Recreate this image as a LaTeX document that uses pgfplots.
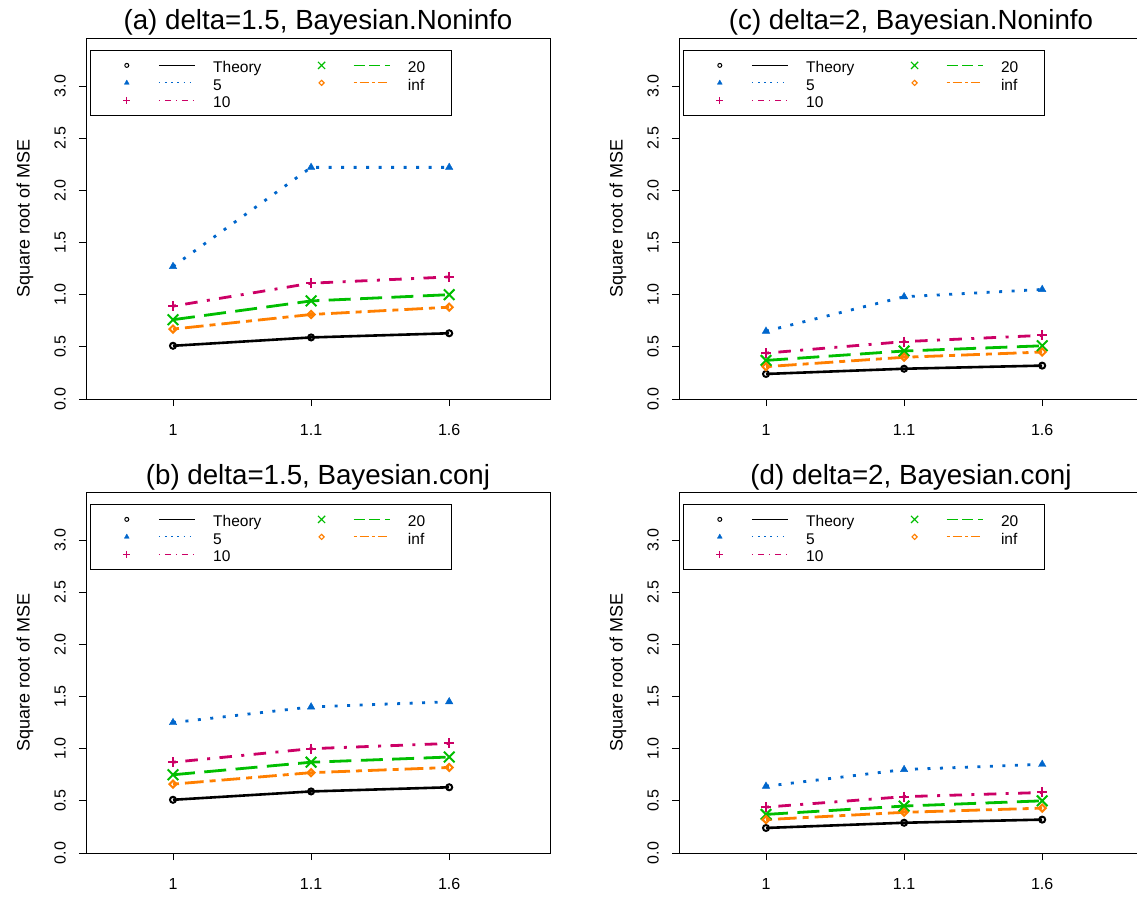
\documentclass[border=0pt]{standalone}
\usepackage{pgfplots}
\pgfplotsset{compat=1.18}
\usepackage{fontspec}
\setmainfont{Liberation Sans}

\definecolor{cblue}{RGB}{0,102,204}
\definecolor{cmag}{RGB}{204,0,102}
\definecolor{cgreen}{RGB}{0,190,0}
\definecolor{corange}{RGB}{255,127,0}

\pgfplotsset{
 leg/.style 2 args={legend image code/.code={
   \path (-9pt,0pt) (85pt,0pt);
   \draw[#1] plot[only marks] coordinates {(0pt,0pt)};
   \draw[#2] (32pt,0pt) -- (68pt,0pt);}},
 sTheory/.style={black, solid, line width=2.6pt, mark=o, mark size=3pt,
   mark options={solid, line width=2pt},
   leg={black, mark=o, mark size=2pt, mark options={solid, line width=1pt}}{black, solid, line width=1pt}},
 sFive/.style={cblue, line width=2.8pt, dash pattern=on 3pt off 9.5pt, mark=triangle*, mark size=4.3pt,
   mark options={solid, line width=0.4pt, fill=cblue},
   leg={cblue, mark=triangle*, mark size=2.8pt, mark options={solid, line width=0.4pt, fill=cblue}}{cblue, line width=1.1pt, dash pattern=on 1.6pt off 4.6pt}},
 sTen/.style={cmag, line width=2.8pt, dash pattern=on 3pt off 9.4pt on 12.5pt off 9.4pt, mark=+, mark size=5pt,
   mark options={solid, line width=2pt},
   leg={cmag, mark=+, mark size=3.5pt, mark options={solid, line width=1.1pt}}{cmag, line width=1.1pt, dash pattern=on 1.6pt off 4.6pt on 6.2pt off 4.6pt}},
 sTwenty/.style={cgreen, line width=2.8pt, dash pattern=on 22pt off 9.4pt, mark=x, mark size=7.5pt,
   mark options={solid, line width=2pt},
   leg={cgreen, mark=x, mark size=5pt, mark options={solid, line width=1.1pt}}{cgreen, line width=1.1pt, dash pattern=on 11pt off 4.7pt}},
 sInf/.style={corange, line width=2.8pt, dash pattern=on 6pt off 6pt on 18.7pt off 6pt, mark=square, mark size=2.5pt,
   mark options={solid, line width=2pt, rotate=45},
   leg={corange, mark=square, mark size=1.8pt, mark options={solid, line width=1.1pt, rotate=45}}{corange, line width=1.1pt, dash pattern=on 3pt off 3pt on 9.4pt off 3pt}},
 panel/.style={
  scale only axis, width=464pt, height=361pt,
  xmin=0.37, xmax=3.73, ymin=0, ymax=3.46,
  xtick={1,2,3}, xticklabels={1,1.1,1.6},
  ytick={0,0.5,1,1.5,2,2.5,3}, yticklabels={0.0,0.5,1.0,1.5,2.0,2.5,3.0},
  tick align=outside, tick pos=left,
  major tick length=7pt,
  axis line style={line width=0.9pt, black},
  tick style={line width=0.9pt, black},
  ticklabel style={font=\fontsize{16}{18}\selectfont},
  yticklabel style={rotate=90, anchor=south, inner ysep=13pt},
  xticklabel style={anchor=north, yshift=-15pt},
  /pgf/number format/assume math mode=true,
  ylabel={Square root of MSE},
  every axis y label/.style={at={(axis description cs:-0.1315,0.5)}, rotate=90, anchor=center, font=\fontsize{18}{20}\selectfont},
  every axis title/.style={at={(axis description cs:0.5,1)}, anchor=base, yshift=8pt, font=\fontsize{27.7}{30}\selectfont},
  legend columns=2,
  legend cell align=left,
  legend style={at={(axis description cs:0.0086,0.9668)}, anchor=north west, draw=black, line width=0.8pt,
    inner xsep=26pt, inner ysep=7.5pt, row sep=2.5pt,
    nodes={inner sep=0pt, text height=15pt, text depth=0pt, font=\fontsize{15.5}{17}\selectfont}},
 },
}

\begin{document}
\begin{tikzpicture}
\path[use as bounding box] (0pt,0pt) rectangle (1137pt,898pt);

% (a)
\begin{axis}[panel, at={(86pt,499pt)}, anchor=south west, title={(a) delta=1.5, Bayesian.Noninfo}]
\addplot[sTheory] coordinates {(1,0.51) (2,0.59) (3,0.63)};
\addlegendentry{\makebox[98pt][l]{Theory}}
\addplot[sTwenty] coordinates {(1,0.76) (2,0.94) (3,1.00)};
\addlegendentry{20}
\addplot[sFive] coordinates {(1,1.27) (2,2.22) (3,2.22)};
\addlegendentry{5}
\addplot[sInf] coordinates {(1,0.67) (2,0.81) (3,0.88)};
\addlegendentry{inf}
\addplot[sTen] coordinates {(1,0.89) (2,1.11) (3,1.17)};
\addlegendentry{10}
\end{axis}

% (c)
\begin{axis}[panel, at={(679pt,499pt)}, anchor=south west, title={(c) delta=2, Bayesian.Noninfo}]
\addplot[sTheory] coordinates {(1,0.24) (2,0.29) (3,0.32)};
\addlegendentry{\makebox[98pt][l]{Theory}}
\addplot[sTwenty] coordinates {(1,0.37) (2,0.46) (3,0.51)};
\addlegendentry{20}
\addplot[sFive] coordinates {(1,0.65) (2,0.98) (3,1.05)};
\addlegendentry{5}
\addplot[sInf] coordinates {(1,0.31) (2,0.40) (3,0.45)};
\addlegendentry{inf}
\addplot[sTen] coordinates {(1,0.44) (2,0.55) (3,0.61)};
\addlegendentry{10}
\end{axis}

% (b)
\begin{axis}[panel, at={(86pt,45pt)}, anchor=south west, title={(b) delta=1.5, Bayesian.conj}]
\addplot[sTheory] coordinates {(1,0.51) (2,0.59) (3,0.63)};
\addlegendentry{\makebox[98pt][l]{Theory}}
\addplot[sTwenty] coordinates {(1,0.75) (2,0.87) (3,0.92)};
\addlegendentry{20}
\addplot[sFive] coordinates {(1,1.25) (2,1.40) (3,1.45)};
\addlegendentry{5}
\addplot[sInf] coordinates {(1,0.66) (2,0.77) (3,0.82)};
\addlegendentry{inf}
\addplot[sTen] coordinates {(1,0.87) (2,1.00) (3,1.05)};
\addlegendentry{10}
\end{axis}

% (d)
\begin{axis}[panel, at={(679pt,45pt)}, anchor=south west, title={(d) delta=2, Bayesian.conj}]
\addplot[sTheory] coordinates {(1,0.24) (2,0.29) (3,0.32)};
\addlegendentry{\makebox[98pt][l]{Theory}}
\addplot[sTwenty] coordinates {(1,0.37) (2,0.45) (3,0.50)};
\addlegendentry{20}
\addplot[sFive] coordinates {(1,0.64) (2,0.80) (3,0.85)};
\addlegendentry{5}
\addplot[sInf] coordinates {(1,0.32) (2,0.39) (3,0.43)};
\addlegendentry{inf}
\addplot[sTen] coordinates {(1,0.44) (2,0.54) (3,0.58)};
\addlegendentry{10}
\end{axis}
\end{tikzpicture}
\end{document}
